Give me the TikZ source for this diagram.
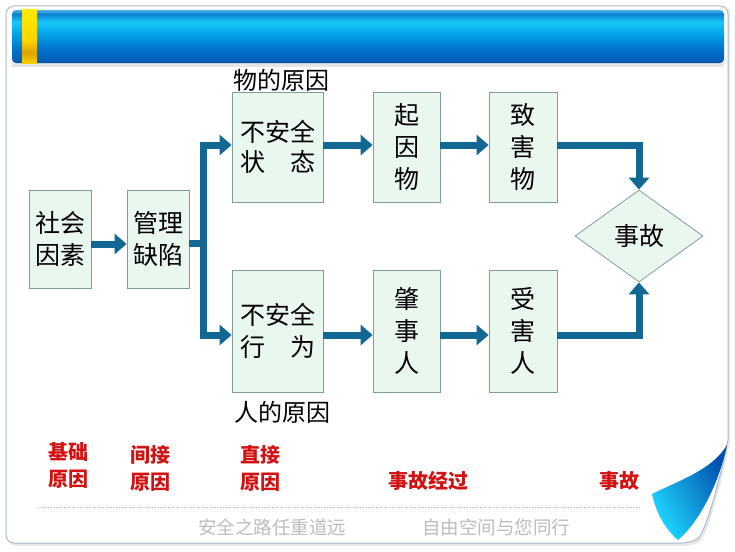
\documentclass[tikz,border=0pt]{standalone}
\usepackage{fontspec}
\setmainfont{Noto Sans CJK SC}
\usetikzlibrary{arrows.meta,shapes.geometric,calc}
\definecolor{boxfill}{RGB}{234,247,238}
\definecolor{boxline}{RGB}{125,158,152}
\definecolor{flowc}{RGB}{18,104,146}
\definecolor{redc}{RGB}{210,18,18}
\definecolor{footc}{RGB}{188,188,188}
\definecolor{framec}{RGB}{172,186,202}
\definecolor{ba}{RGB}{0,79,158}
\definecolor{bb}{RGB}{0,96,184}
\definecolor{bc}{RGB}{0,112,200}
\definecolor{bd}{RGB}{0,160,230}
\definecolor{be}{RGB}{24,200,248}
\definecolor{bf}{RGB}{10,128,208}
\definecolor{bg}{RGB}{80,176,232}
\definecolor{ya}{RGB}{248,208,0}
\definecolor{yb}{RGB}{224,160,0}
\definecolor{yc}{RGB}{255,212,0}
\definecolor{yd}{RGB}{255,232,0}
\definecolor{curla}{RGB}{30,215,255}
\definecolor{curlb}{RGB}{0,80,175}
\pgfdeclareverticalshading{barsh}{100bp}{color(0bp)=(ba); color(25bp)=(ba); color(27.8bp)=(bb); color(37.3bp)=(bc); color(51.4bp)=(bd); color(63.7bp)=(be); color(71.2bp)=(bf); color(75bp)=(bg); color(100bp)=(bg)}
\pgfdeclareverticalshading{yelsh}{100bp}{color(0bp)=(ya); color(25bp)=(ya); color(35bp)=(yb); color(46bp)=(yc); color(75bp)=(yd); color(100bp)=(yd)}
\tikzset{
  box/.style={draw=boxline, line width=0.8pt, fill=boxfill, inner sep=0pt, align=center, font=\fontsize{25}{32}\selectfont},
  flow/.style={draw=flowc, line width=7pt, line join=miter, -{Triangle[length=12pt,width=20pt]}},
  lab/.style={inner sep=0pt, font=\fontsize{24}{28}\selectfont},
  redlab/.style={inner sep=0pt, align=center, text=redc, font=\bfseries\fontsize{20}{27}\selectfont},
  foot/.style={inner sep=0pt, text=footc, font=\fontsize{18.5}{22}\selectfont}
}
\begin{document}
\begin{tikzpicture}[x=1pt,y=-1pt]
\useasboundingbox (0,0) rectangle (735,551);
% frame
\path[fill=gray!18] (8,9) [rounded corners=8pt] -- (8,546) -- (692,546) [sharp corners] .. controls (707,538) and (722,482) .. (730,442) -- (730,9) -- cycle;
\path[draw=framec, fill=white, line width=1pt] (728,300) [rounded corners=8pt] -- (728,6) -- (6,6) -- (6,543) -- (690,543) [sharp corners] .. controls (705,535) and (720,480) .. (728,440) -- cycle;
% header
\path[fill=gray!20] (12,63) rectangle (724,67);
\path[shading=barsh, rounded corners=4pt] (12,10) rectangle (724,63);
\path[shading=yelsh] (22,10) rectangle (37,63);
% curl
\path[shading=axis, left color=curla, right color=curlb, shading angle=120]
  (727,445) .. controls (712,470) and (680,480) .. (652,494)
  .. controls (656,512) and (664,528) .. (678,540)
  .. controls (700,522) and (720,480) .. (727,445) -- cycle;
% rows
\coordinate (r1) at (0,145);
\coordinate (r2) at (0,335);
\coordinate (tr) at (203,243);
% boxes
\node[box, minimum width=62pt, minimum height=98pt] (shehui) at (60,239) {社会\\因素};
\node[box, minimum width=62pt, minimum height=98pt] (guanli) at (158,239) {管理\\缺陷};
\node[box, minimum width=91pt, minimum height=110pt, font=\fontsize{25}{30}\selectfont] (zhuangtai) at (277.5,147) {不安全\\状\hspace{1em}态};
\node[box, minimum width=91pt, minimum height=122pt] (xingwei) at (277.5,331) {不安全\\行\hspace{1em}为};
\node[box, minimum width=67pt, minimum height=110pt] (qiyin) at (406.5,147) {起\\因\\物};
\node[box, minimum width=68pt, minimum height=110pt] (zhihai) at (523,147) {致\\害\\物};
\node[box, minimum width=67pt, minimum height=122pt] (zhaoshi) at (406.5,331) {肇\\事\\人};
\node[box, minimum width=68pt, minimum height=122pt] (shouhai) at (523,331) {受\\害\\人};
\node[box, shape=diamond, aspect=1.39, minimum width=128pt, minimum height=92pt] (shigu) at (639,236) {事故};
% labels
\node[lab] (wu) at (281,80) {物的原因};
\node[lab] (ren) at (282,412) {人的原因};
% arrows
\draw[flow] ($(shehui.east)+(0,5)$) -- ($(guanli.west)+(0,5)$);
\draw[flow] ($(guanli.east)+(0,4)$) -- (tr) |- (zhuangtai.west |- r1);
\draw[flow] (tr) |- (xingwei.west |- r2);
\draw[flow] (zhuangtai.east |- r1) -- (qiyin.west |- r1);
\draw[flow] (qiyin.east |- r1) -- (zhihai.west |- r1);
\draw[flow] (zhihai.east |- r1) -| (shigu.north);
\draw[flow] (xingwei.east |- r2) -- (zhaoshi.west |- r2);
\draw[flow] (zhaoshi.east |- r2) -- (shouhai.west |- r2);
\draw[flow] (shouhai.east |- r2) -| (shigu.south);
% bottom labels
\node[redlab] (jichu) at (68,465) {基础\\原因};
\node[redlab] (jianjie) at (150,468) {间接\\原因};
\node[redlab] (zhijie) at (260,468) {直接\\原因};
\node[redlab] (jingguo) at (428.5,481) {事故经过};
\node[redlab] (shigu2) at (619,481) {事故};
% dotted rule
\coordinate (d1) at (38,507);
\coordinate (d2) at (640,507);
\draw[gray!60, line width=0.6pt, dotted] (d1) -- (d2);
% footer
\node[foot] (f1) at (272,527) {安全之路任重道远};
\node[foot] (f2) at (496,527) {自由空间与您同行};
\end{tikzpicture}
\end{document}
